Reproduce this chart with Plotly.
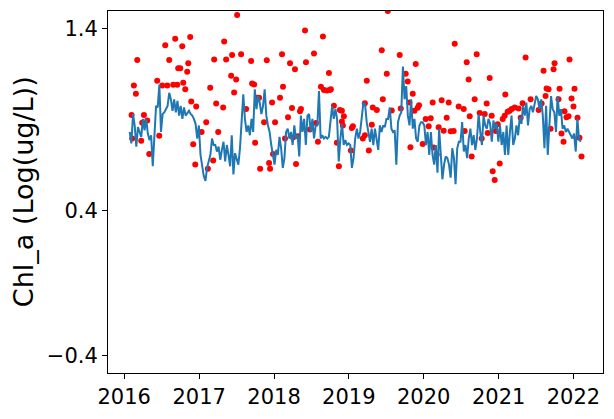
import pandas as pd
import plotly.graph_objects as go

# ---- data ----
line_start = "2016-01-28"
line_end = "2022-02-05"
line_vals = [
    0.832, 0.769, 0.931, 0.868, 0.751, 0.859, 0.832, 0.805, 0.904, 0.841,
    0.904, 0.823, 0.787, 0.814, 0.643, 0.796, 0.976, 0.967, 1.094, 0.832,
    0.931, 0.940, 0.958, 0.976, 1.048, 1.012, 0.949, 1.012, 0.940, 1.003,
    0.922, 0.976, 0.904, 0.967, 0.922, 0.940, 0.949, 0.931, 0.922, 0.904,
    0.877, 0.796, 0.868, 0.706, 0.634, 0.589, 0.562, 0.634, 0.670, 0.706,
    0.796, 0.760, 0.760, 0.724, 0.751, 0.679, 0.733, 0.778, 0.670, 0.760,
    0.706, 0.643, 0.814, 0.598, 0.715, 0.688, 0.652, 0.742, 0.868, 1.039,
    0.904, 0.832, 0.868, 0.814, 0.904, 0.832, 1.067, 0.958, 1.030, 0.994,
    0.931, 0.976, 1.067, 0.922, 0.868, 0.832, 0.760, 0.715, 0.652, 0.733,
    0.706, 0.805, 0.742, 0.634, 0.688, 0.832, 0.850, 0.796, 0.832, 0.760,
    0.868, 0.796, 0.814, 0.697, 0.922, 0.832, 0.904, 0.760, 0.922, 0.931,
    0.832, 0.904, 0.796, 0.868, 0.868, 1.058, 0.796, 0.814, 0.796, 0.805,
    0.796, 0.805, 0.886, 0.976, 0.904, 0.958, 0.904, 0.670, 0.796, 0.877,
    0.760, 0.787, 0.760, 0.769, 0.760, 0.634, 0.688, 0.796, 0.850, 0.796,
    0.832, 0.922, 0.994, 0.985, 0.886, 0.832, 0.778,
    0.850, 0.760, 0.850, 0.796, 0.733, 0.868, 0.832, 0.868, 0.859, 0.904,
    0.904, 0.967, 0.850, 0.832, 0.841, 0.652, 0.886, 0.922, 0.940, 1.193,
    1.012, 1.085, 0.922, 0.868, 1.012, 0.850, 0.904, 0.796, 0.778, 0.868,
    0.886, 0.886, 0.868, 0.760, 0.832, 0.706, 0.832, 0.706, 0.652, 0.760,
    0.607, 0.850, 0.688, 0.571, 0.652, 0.697, 0.688, 0.652, 0.580, 0.742,
    0.688, 0.544, 0.742, 0.778, 0.778, 0.886, 0.724, 0.760, 0.688, 0.796,
    0.850, 0.760, 0.814, 0.733, 0.796, 0.931, 0.832, 0.760, 0.922, 0.868,
    0.850, 0.904, 0.877, 0.778, 0.895, 0.850, 0.877, 0.778, 0.868, 0.760,
    0.832, 0.706, 0.868, 0.706, 0.832, 0.922, 0.760, 0.796, 0.868, 0.814,
    0.913, 0.877, 0.976, 0.922, 0.994, 0.868, 0.958, 0.976, 0.940, 0.994,
    1.030, 1.012, 0.958, 1.012, 0.922, 0.742, 0.976, 0.706, 0.904, 1.030,
    0.958, 0.940, 0.832, 1.030, 0.922, 0.958, 0.850, 0.868, 0.832, 0.850,
    0.832, 0.814, 0.796, 0.823, 0.724, 0.904, 0.796, 0.778,
]

red_year = [
    2016.098, 2016.129, 2016.156, 2016.174, 2016.107, 2016.227, 2016.263, 2016.240,
    2016.307, 2016.334, 2016.440, 2016.467, 2016.507, 2016.574, 2016.547, 2016.600,
    2016.654, 2016.680, 2016.707, 2016.720, 2016.747, 2016.774, 2016.787, 2016.814,
    2016.840, 2016.854, 2016.880, 2016.894, 2016.920, 2016.947, 2016.960, 2017.032,
    2017.094, 2017.116, 2017.147, 2017.187, 2017.200, 2017.227, 2017.254, 2017.320,
    2017.334, 2017.360, 2017.427, 2017.440, 2017.467, 2017.494, 2017.507, 2017.560,
    2017.627, 2017.694, 2017.707, 2017.734, 2017.747, 2017.774, 2017.800, 2017.814,
    2017.867, 2017.903, 2017.934, 2017.947, 2017.974, 2017.987, 2018.014, 2018.080,
    2018.107, 2018.120, 2018.147, 2018.187, 2018.214, 2018.240, 2018.254, 2018.280,
    2018.294, 2018.320, 2018.347, 2018.360, 2018.414, 2018.427, 2018.480, 2018.534,
    2018.560, 2018.587, 2018.627, 2018.654, 2018.667, 2018.707, 2018.734, 2018.747,
    2018.760, 2018.800, 2018.840, 2018.867, 2018.880, 2018.907, 2018.934, 2018.907,
    2018.920, 2019.040, 2019.027, 2019.054, 2019.187, 2019.214, 2019.214, 2019.240,
    2019.267,
    2019.520, 2019.440, 2019.680, 2019.507, 2019.760, 2019.787, 2019.894, 2019.320,
    2019.374, 2019.454, 2019.574, 2019.694, 2019.809, 2019.854, 2019.876, 2019.920,
    2019.938, 2020.120, 2020.240, 2020.334, 2020.467, 2020.534, 2020.614, 2020.680,
    2020.747, 2020.814, 2020.840, 2020.907, 2020.880, 2020.414, 2020.574, 2020.707,
    2020.600, 2019.307, 2019.823, 2019.987, 2020.027, 2020.094, 2020.307, 2020.067,
    2020.200, 2020.267, 2020.360, 2020.400, 2020.134, 2020.174, 2020.547, 2020.640,
    2020.774, 2020.854, 2020.960, 2020.987, 2021.014, 2020.920, 2020.947, 2021.054,
    2021.089, 2021.080, 2021.120, 2021.147, 2021.174, 2021.214, 2021.267, 2021.320,
    2021.294, 2021.360, 2021.427, 2021.534, 2021.574, 2021.600, 2021.627, 2021.640,
    2021.667, 2021.734, 2021.747, 2021.800, 2021.814, 2021.694, 2021.840, 2021.867,
    2021.880, 2021.907, 2021.934, 2021.947, 2021.974, 2022.000, 2022.014, 2022.054,
    2022.080, 2022.107,
]
red_val = [
    0.926, 1.088, 1.043, 1.229, 0.796, 0.784, 0.926, 0.883,
    0.895, 0.710, 1.115, 0.811, 1.088, 1.088, 1.310, 1.229,
    1.092, 1.346, 1.092, 1.184, 1.184, 1.304, 1.103, 1.067,
    1.164, 1.211, 1.355, 1.000, 0.764, 0.652, 0.973, 0.832,
    0.886, 0.629, 1.076, 0.674, 1.232, 0.989, 0.832, 0.967,
    1.331, 1.232, 1.142, 1.256, 1.049, 1.121, 1.477, 1.261,
    0.958, 1.223, 1.099, 1.094, 0.773, 1.021, 1.021, 0.629,
    0.886, 1.227, 0.661, 0.629, 0.994, 0.710, 0.886, 1.021,
    1.261, 1.081, 0.796, 0.913, 1.211, 0.964, 0.802, 1.178,
    0.656, 0.809, 0.946, 0.958, 1.391, 1.216, 0.845, 1.265,
    0.881, 0.778, 1.081, 1.358, 1.063, 1.061, 1.157, 1.063,
    1.067, 0.976, 0.773, 0.643, 0.953, 0.949, 0.919, 0.890,
    0.868, 0.854, 0.730, 0.863, 0.796, 0.814, 0.991, 1.115,
    0.730,
    1.499, 1.283, 1.256, 1.153, 1.153, 1.110, 1.207, 0.967,
    0.953, 1.012, 0.951, 0.962, 0.994, 1.043, 0.949, 0.966,
    0.980, 0.994, 1.007, 0.994, 0.973, 0.958, 0.919, 1.012,
    0.937, 0.931, 0.989, 0.922, 1.130, 1.319, 1.216, 1.261,
    1.121, 0.872, 0.748, 0.766, 0.903, 0.908, 0.910, 0.863,
    0.858, 0.839, 0.836, 0.838, 0.746, 0.706, 0.838, 0.697,
    0.796, 0.827, 0.838, 0.874, 0.658, 0.616, 0.567, 0.904,
    1.039, 0.922, 0.944, 0.949, 0.958, 0.967, 0.962, 0.991,
    0.910, 1.243, 1.012, 0.953, 0.989, 1.169, 1.030, 1.072,
    1.067, 1.178, 1.211, 1.012, 1.070, 0.850, 0.823, 0.778,
    0.946, 0.913, 0.919, 1.232, 1.016, 0.973, 1.070, 0.910,
    0.800, 0.697,
]

year_ticks = [2016, 2017, 2018, 2019, 2020, 2021, 2022]
y_ticks = [1.4, 0.4, -0.4]
y_ticktext = ["1.4", "0.4", "\u22120.4"]
y_label = "Chl_a (Log(ug/L))"


def year_to_date(y):
    base = pd.Timestamp(int(y), 1, 1)
    nxt = pd.Timestamp(int(y) + 1, 1, 1)
    return base + (nxt - base) * (y - int(y))


line_dates = pd.date_range(line_start, line_end, periods=len(line_vals))
red_dates = [year_to_date(v) for v in red_year]

FONT = "DejaVu Sans"

fig = go.Figure()
fig.add_trace(go.Scatter(
    x=red_dates, y=red_val, mode="markers",
    marker=dict(color="#ff0000", size=6, line=dict(width=0)),
    showlegend=False, cliponaxis=True,
))
fig.add_trace(go.Scatter(
    x=line_dates, y=line_vals, mode="lines",
    line=dict(color="#1f77b4", width=2),
    showlegend=False,
))

fig.update_layout(
    width=614, height=419,
    margin=dict(l=108, r=10, t=10, b=40),
    paper_bgcolor="white", plot_bgcolor="white",
    font=dict(family=FONT, size=21, color="black"),
    xaxis=dict(
        type="date",
        range=["2015-10-14", "2022-05-25"],
        tickvals=[pd.Timestamp(y, 1, 1) for y in year_ticks],
        ticktext=[str(y) for y in year_ticks],
        ticks="outside", ticklen=5, tickwidth=1, tickcolor="black",
        showline=True, linecolor="black", linewidth=1, mirror=True,
        showgrid=False, zeroline=False,
        tickfont=dict(family=FONT, size=21, color="black"),
    ),
    yaxis=dict(
        range=[-0.497, 1.499],
        tickvals=y_ticks, ticktext=y_ticktext,
        ticks="outside", ticklen=5, tickwidth=1, tickcolor="black",
        showline=True, linecolor="black", linewidth=1, mirror=True,
        showgrid=False, zeroline=False,
        tickfont=dict(family=FONT, size=21, color="black"),
    ),
    annotations=[dict(
        text=y_label, xref="paper", yref="paper",
        x=(23 - 108) / 496, y=0.5, xanchor="center", yanchor="middle",
        textangle=-90, showarrow=False,
        font=dict(family=FONT, size=27, color="black"),
    )],
)

fig.write_html("out.html")
